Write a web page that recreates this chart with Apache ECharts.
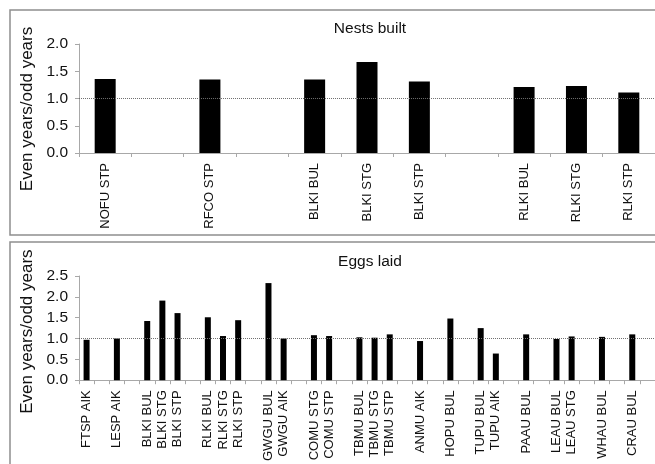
<!DOCTYPE html>
<html>
<head>
<meta charset="utf-8">
<script src="https://cdn.jsdelivr.net/npm/echarts@6/dist/echarts.min.js"></script>
<style>
html,body{margin:0;padding:0;background:#fff;}
#chart{width:655px;height:464px;}
</style>
</head>
<body>
<div id="chart"></div>
<script>
// Top panel: Nests built
var nestCategories = ['NOFU STP', '', 'RFCO STP', '', 'BLKI BUL', 'BLKI STG', 'BLKI STP', '', 'RLKI BUL', 'RLKI STG', 'RLKI STP'];
var nestValues = [1.36, null, 1.35, null, 1.35, 1.67, 1.31, null, 1.21, 1.23, 1.11];
var nestTicks = [0, 0.5, 1.0, 1.5, 2.0];

// Bottom panel: Eggs laid
var eggCategories = ['FTSP AIK', '', 'LESP AIK', '', 'BLKI BUL', 'BLKI STG', 'BLKI STP', '', 'RLKI BUL', 'RLKI STG', 'RLKI STP', '',
  'GWGU BUL', 'GWGU AIK', '', 'COMU STG', 'COMU STP', '', 'TBMU BUL', 'TBMU STG', 'TBMU STP', '', 'ANMU AIK', '', 'HOPU BUL', '',
  'TUPU BUL', 'TUPU AIK', '', 'PAAU BUL', '', 'LEAU BUL', 'LEAU STG', '', 'WHAU BUL', '', 'CRAU BUL', ''];
var eggValues = [0.97, null, 1.00, null, 1.42, 1.91, 1.61, null, 1.51, 1.06, 1.44, null,
  2.33, 1.00, null, 1.08, 1.06, null, 1.03, 1.02, 1.10, null, 0.94, null, 1.48, null,
  1.25, 0.64, null, 1.10, null, 0.99, 1.05, null, 1.04, null, 1.10, null];
var eggTicks = [0, 0.5, 1.0, 1.5, 2.0, 2.5];

var yAxisName = 'Even years/odd years';
var titles = ['Nests built', 'Eggs laid'];

var FONT = '"Liberation Sans", Arial, sans-serif';
var AXIS_COLOR = '#a8a8a8';

function refLine() {
  return {
    silent: true, symbol: 'none', animation: false,
    label: {show: false},
    lineStyle: {type: 'dotted', color: '#707070', width: 1},
    data: [{yAxis: 1}]
  };
}

function yAx(idx, ticks, pad) {
  return {
    type: 'value', gridIndex: idx,
    min: ticks[0], max: ticks[ticks.length - 1], interval: 0.5,
    axisLine: {show: true, lineStyle: {color: AXIS_COLOR, width: 1}},
    axisTick: {show: true, length: 4, lineStyle: {color: AXIS_COLOR}},
    splitLine: {show: false},
    axisLabel: {color: '#111', fontSize: 15.5, fontFamily: FONT, margin: 11,
      formatter: function (v) { return v.toFixed(1); }},
    name: yAxisName, nameLocation: 'middle', nameGap: 43, nameRotate: 90,
    nameTextStyle: {color: '#111', fontSize: 17, fontFamily: FONT, padding: pad}
  };
}

function xAx(idx, cats) {
  return {
    type: 'category', gridIndex: idx, data: cats, boundaryGap: true,
    axisLine: {show: true, lineStyle: {color: AXIS_COLOR, width: 1}},
    axisTick: {show: true, interval: 0, length: 4, lineStyle: {color: AXIS_COLOR}},
    axisLabel: {interval: 0, rotate: 90, color: '#111', fontSize: 13, fontFamily: FONT, margin: 10},
    splitLine: {show: false}
  };
}

var chart = echarts.init(document.getElementById('chart'), null, {renderer: 'canvas'});
chart.setOption({
  animation: false,
  backgroundColor: '#fff',
  title: [
    {text: titles[0], left: 365, top: 16, textAlign: 'center',
      textStyle: {fontSize: 15.5, fontWeight: 'normal', color: '#111', fontFamily: FONT}},
    {text: titles[1], left: 365, top: 249, textAlign: 'center',
      textStyle: {fontSize: 15.5, fontWeight: 'normal', color: '#111', fontFamily: FONT}}
  ],
  graphic: [
    {type: 'rect', shape: {x: 10, y: 10, width: 660, height: 225},
      style: {fill: 'none', stroke: '#8f8f8f', lineWidth: 1.5}, silent: true},
    {type: 'rect', shape: {x: 10, y: 242, width: 660, height: 240},
      style: {fill: 'none', stroke: '#8f8f8f', lineWidth: 1.5}, silent: true}
  ],
  grid: [
    {left: 79, top: 44, width: 576, height: 109},
    {left: 79, top: 276, width: 579, height: 106}
  ],
  xAxis: [xAx(0, nestCategories), xAx(1, eggCategories)],
  yAxis: [yAx(0, nestTicks, [0, 21, 0, 0]), yAx(1, eggTicks, [0, 7, 0, 0])],
  series: [
    {type: 'bar', xAxisIndex: 0, yAxisIndex: 0, data: nestValues, barWidth: 21,
      itemStyle: {color: '#000'}, markLine: refLine()},
    {type: 'bar', xAxisIndex: 1, yAxisIndex: 1, data: eggValues, barWidth: 6,
      itemStyle: {color: '#000'}, markLine: refLine()}
  ]
});
</script>
</body>
</html>
